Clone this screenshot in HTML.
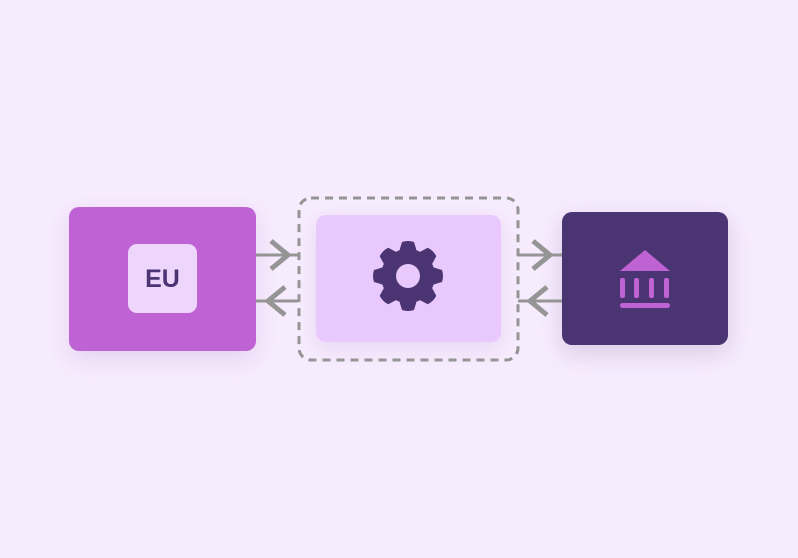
<!DOCTYPE html>
<html><head><style>
html,body{margin:0;padding:0;width:798px;height:558px;background:#f7ebfe;overflow:hidden}
.b{position:absolute;border-radius:10px}
</style></head><body>
<div class="b" style="left:69px;top:207px;width:187px;height:144px;background:#bf63d4;box-shadow:0 8px 24px rgba(90,40,120,.12)"></div>
<div class="b" style="left:128px;top:244px;width:69px;height:69px;background:#eed5fc;border-radius:9px;font:bold 25px 'Liberation Sans',sans-serif;color:#4a3572;text-align:center;line-height:70px">EU</div>
<div class="b" style="left:316px;top:215px;width:185px;height:127px;background:#e8c8fd;box-shadow:0 6px 20px rgba(90,40,120,.1)"></div>
<div class="b" style="left:562px;top:212px;width:166px;height:133px;background:#4a3572;box-shadow:0 8px 24px rgba(40,20,80,.15)"></div>
<svg width="798" height="558" style="position:absolute;left:0;top:0">
<rect x="299" y="198" width="219" height="162" rx="12" fill="none" stroke="#959595" stroke-width="3" stroke-dasharray="8,6"/>
<g stroke="#959595" fill="none">
<path d="M256 255H298M256 301H298M518 255H562M518 301H562" stroke-width="3"/>
<path d="M271 241L288 255L271 269M285 287L268 301L285 315M533 241L550 255L533 269M547 287L530 301L547 315" stroke-width="5"/>
</g>
<g transform="translate(408,276)" fill="#4a3572">
<g id="t"><path d="M-9 -24L-6 -34Q0 -36 6 -34L9 -24Z"/></g>
<use href="#t" transform="rotate(45)"/><use href="#t" transform="rotate(90)"/><use href="#t" transform="rotate(135)"/>
<use href="#t" transform="rotate(180)"/><use href="#t" transform="rotate(225)"/><use href="#t" transform="rotate(270)"/><use href="#t" transform="rotate(315)"/>
<circle r="27"/><circle r="12" fill="#e8c8fd"/>
</g>
<g fill="#bf63d4">
<path d="M645 250L670 271H620Z"/>
<rect x="620" y="278" width="5" height="20" rx="2"/><rect x="634" y="278" width="5" height="20" rx="2"/>
<rect x="649" y="278" width="5" height="20" rx="2"/><rect x="664" y="278" width="5" height="20" rx="2"/>
<rect x="620" y="303" width="50" height="5" rx="2.5"/>
</g>
</svg>
</body></html>
